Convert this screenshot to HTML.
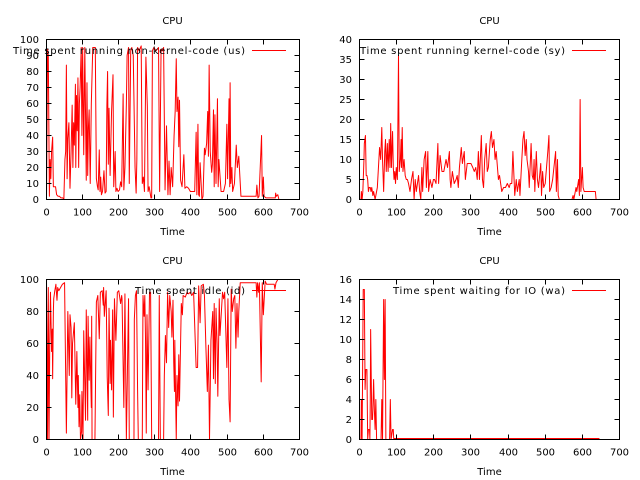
<!DOCTYPE html>
<html><head><meta charset="utf-8"><style>
html,body{margin:0;padding:0;background:#fff;}
svg{display:block;}
text{font-family:"DejaVu Sans","Liberation Sans",sans-serif;font-size:10px;fill:#000;}
.d{fill:none;stroke:#f00;stroke-width:1;stroke-linejoin:round;}
.a{fill:none;stroke:#000;stroke-width:1;}
</style></head><body>
<svg width="640" height="480" viewBox="0 0 640 480" xmlns="http://www.w3.org/2000/svg">
<rect width="640" height="480" fill="#fff"/>

<!-- Panel 1 data -->
<g transform="translate(46.5,199.5) scale(0.36143,-1.6)">
<polyline class="d" vector-effect="non-scaling-stroke" points="0,0 3,94 5,90 8,2 10,25 12,13 14,30 17,39 19,8 22,8 25,8 28,3 32,2 36,2 40,1 45,1 48,0 51,25 53,30 55,84 57,13 59,38 62,48 65,7 68,30 71,59 73,20 75,48 77,34 80,72 81,20 83,65 85,43 87,76 89,20 91,60 93,70 96,95 98,40 100,95 103,28 106,95 110,12 112,73 114,15 116,45 118,56 121,10 124,60 128,95 131,95 135,95 138,13 141,8 143,6 146,31 148,5 150,14 152,3 155,5 159,18 162,4 165,5 167,58 169,80 171,22 173,57 176,15 180,55 184,78 186,8 190,30 192,5 195,7 198,5 202,6 205,11 208,8 212,66 214,6 217,20 221,60 223,90 227,95 229,10 233,93 236,95 240,90 245,20 248,4 250,25 252,95 256,93 262,96 265,10 268,14 271,5 275,89 279,58 281,5 284,8 289,1 291,1 293,93 297,95 303,93 310,95 313,5 317,94 320,93 324,95 328,6 332,46 336,3 339,24 342,3 345,20 349,8 353,40 356,55 359,88 361,55 364,64 366,33 368,62 371,12 375,8 380,28 383,7 388,8 393,7 398,5 405,5 410,5 414,42 416,3 419,47 421,3 423,2 425,23 430,0 433,2 437,32 439,28 443,35 446,55 448,27 450,84 453,30 457,17 459,22 462,56 464,8 466,53 469,10 473,63 475,8 477,25 480,15 483,5 490,5 495,10 499,47 501,13 505,63 507,8 508,73 510,10 513,20 515,5 520,10 525,34 528,20 532,27 538,2 560,2 580,2 582,9 585,1 588,2 595,40 597,2 600,14 602,2 607,1 620,1 633,1 634,4 636,2 640,3 643,0"/>
</g>

<!-- Panel 2 data -->
<g transform="translate(359.5,199.5) scale(0.37143,-4)">
<polyline class="d" vector-effect="non-scaling-stroke" points="0,0 4,0 5,2 7,0 9,2 12,10 13,14 16,16 18,6 20,6 22,5 24,2 26,3 29,3 31,2 33,3 36,1 38,2 42,0 44,1 48,3 51,8 54,13 57,10 60,18 62,10 65,2 68,12 70,15 72,7 75,14 77,7 80,15 82,8 84,19 86,8 89,17 91,8 93,5 95,7 97,4 99,8 102,5 105,36 107,7 110,10 112,15 113,8 115,18 117,7 120,10 123,6 126,5 129,5 132,4 136,2 140,5 144,7 147,0 150,5 153,2 159,6 162,2 165,0 168,8 170,2 174,10 178,12 180,3 184,12 186,2 190,5 195,3 199,5 202,5 206,4 211,14 213,4 217,11 222,7 227,7 233,10 237,8 242,12 244,5 246,3 250,7 255,4 260,5 263,6 266,3 269,8 274,13 277,9 282,12 285,5 290,9 294,9 300,9 305,8 309,7 313,8 317,5 320,12 323,5 328,16 331,5 334,3 337,10 341,14 344,7 347,8 352,15 355,17 358,13 362,15 365,10 368,12 374,5 377,6 383,2 388,3 393,3 398,4 403,3 406,4 410,4 413,12 418,1 422,5 425,2 430,5 432,1 437,10 440,15 443,17 446,11 449,15 451,10 455,7 457,3 462,14 465,6 468,5 470,10 472,2 476,12 479,5 482,3 488,9 490,1 493,7 496,3 500,4 507,12 510,16 512,2 516,3 520,5 528,12 530,2 533,10 535,1 538,0 545,0 572,0 575,1 577,0 583,3 585,2 590,5 592,1 594,25 596,2 600,8 602,3 605,2 615,2 635,2 637,0 646,0"/>
</g>

<!-- Panel 3 data -->
<g transform="translate(46.5,439.5) scale(0.36143,-1.6)">
<polyline class="d" vector-effect="non-scaling-stroke" points="0,100 3,0 5,95 7,0 9,60 11,92 14,55 16,69 17,38 19,80 20,88 23,93 26,97 29,87 31,95 34,93 39,95 44,97 50,98 52,60 55,4 59,80 63,40 65,78 68,70 70,26 72,60 77,73 81,22 84,55 87,20 88,40 90,8 92,28 94,0 97,5 98,30 101,0 103,68 108,12 110,81 114,12 115,77 118,37 120,64 124,20 125,77 126,0 134,0 138,86 142,90 146,63 149,92 154,93 157,84 158,95 160,77 165,93 168,39 171,15 173,82 176,35 177,62 180,31 183,81 185,14 188,88 192,62 196,92 200,93 205,85 208,90 209,88 214,20 217,91 221,0 227,88 229,0 242,0 243,75 246,90 249,93 252,31 254,0 265,0 267,90 270,77 272,90 274,62 276,4 278,78 281,31 285,92 288,92 291,0 310,0 312,90 315,0 324,0 326,40 329,65 332,48 335,92 338,70 341,90 345,80 347,64 350,87 352,48 354,30 355,62 359,0 361,40 364,21 366,53 368,24 373,85 376,78 378,90 384,89 389,92 392,91 398,92 402,90 407,92 414,45 418,45 421,96 425,73 428,96 434,97 437,90 441,58 445,30 448,59 451,0 455,62 460,80 462,38 464,85 467,35 469,82 472,60 474,27 478,88 480,65 487,92 490,88 493,92 499,45 502,88 505,25 508,11 511,94 514,80 518,88 521,90 524,57 527,85 530,64 532,80 536,98 580,98 582,89 584,98 587,92 589,98 594,36 597,98 600,78 605,99 609,97 630,97 632,94 635,98 640,100 643,100"/>
</g>

<!-- Panel 4 data -->
<g transform="translate(359.5,439.5) scale(0.37143,-10)">
<polyline class="d" vector-effect="non-scaling-stroke" points="0,0 4,0 5,4 7,0 10,15 13,15 15,5 17,7 20,7 22,0 24,1 27,1 28,0 29,4 30,11 33,2 35,2 36,3 38,6 40,3 42,1 44,4 46,0 58,0 60,4 62,0 65,14 67,6 69,14 71,0 81,0 83,4 85,0 89,1 91,1 92,0.1 646,0.1"/>
</g>

<!-- Axes boxes -->
<rect class="a" x="46.5" y="39.5" width="253" height="160"/>
<rect class="a" x="359.5" y="39.5" width="260" height="160"/>
<rect class="a" x="46.5" y="279.5" width="253" height="160"/>
<rect class="a" x="359.5" y="279.5" width="260" height="160"/>

<!-- Ticks -->
<path class="a" d="
M46.5 183.5h5M46.5 167.5h5M46.5 151.5h5M46.5 135.5h5M46.5 119.5h5M46.5 103.5h5M46.5 87.5h5M46.5 71.5h5M46.5 55.5h5
M299.5 183.5h-5M299.5 167.5h-5M299.5 151.5h-5M299.5 135.5h-5M299.5 119.5h-5M299.5 103.5h-5M299.5 87.5h-5M299.5 71.5h-5M299.5 55.5h-5
M82.5 199.5v-5M118.5 199.5v-5M154.5 199.5v-5M190.5 199.5v-5M227.5 199.5v-5M263.5 199.5v-5
M82.5 39.5v5M118.5 39.5v5M154.5 39.5v5M190.5 39.5v5M227.5 39.5v5M263.5 39.5v5
M359.5 179.5h5M359.5 159.5h5M359.5 139.5h5M359.5 119.5h5M359.5 99.5h5M359.5 79.5h5M359.5 59.5h5
M619.5 179.5h-5M619.5 159.5h-5M619.5 139.5h-5M619.5 119.5h-5M619.5 99.5h-5M619.5 79.5h-5M619.5 59.5h-5
M396.5 199.5v-5M433.5 199.5v-5M470.5 199.5v-5M508.5 199.5v-5M545.5 199.5v-5M582.5 199.5v-5
M396.5 39.5v5M433.5 39.5v5M470.5 39.5v5M508.5 39.5v5M545.5 39.5v5M582.5 39.5v5
M46.5 407.5h5M46.5 375.5h5M46.5 343.5h5M46.5 311.5h5
M299.5 407.5h-5M299.5 375.5h-5M299.5 343.5h-5M299.5 311.5h-5
M82.5 439.5v-5M118.5 439.5v-5M154.5 439.5v-5M190.5 439.5v-5M227.5 439.5v-5M263.5 439.5v-5
M82.5 279.5v5M118.5 279.5v5M154.5 279.5v5M190.5 279.5v5M227.5 279.5v5M263.5 279.5v5
M359.5 419.5h5M359.5 399.5h5M359.5 379.5h5M359.5 359.5h5M359.5 339.5h5M359.5 319.5h5M359.5 299.5h5
M619.5 419.5h-5M619.5 399.5h-5M619.5 379.5h-5M619.5 359.5h-5M619.5 339.5h-5M619.5 319.5h-5M619.5 299.5h-5
M396.5 439.5v-5M433.5 439.5v-5M470.5 439.5v-5M508.5 439.5v-5M545.5 439.5v-5M582.5 439.5v-5
M396.5 279.5v5M433.5 279.5v5M470.5 279.5v5M508.5 279.5v5M545.5 279.5v5M582.5 279.5v5
"/>

<!-- Legend sample lines -->
<path class="d" d="M252 50.5H286M572 50.5H606M252 290.5H286M572 290.5H606"/>

<!-- Titles -->
<text x="172.5" y="24" text-anchor="middle">CPU</text>
<text x="489.5" y="24" text-anchor="middle">CPU</text>
<text x="172.5" y="264" text-anchor="middle">CPU</text>
<text x="489.5" y="264" text-anchor="middle">CPU</text>

<!-- X labels -->
<text x="172.5" y="235" text-anchor="middle">Time</text>
<text x="489.5" y="235" text-anchor="middle">Time</text>
<text x="172.5" y="475" text-anchor="middle">Time</text>
<text x="489.5" y="475" text-anchor="middle">Time</text>

<!-- Legends -->
<text x="13" y="54" textLength="232" lengthAdjust="spacing">Time spent running non-kernel-code (us)</text>
<text x="360" y="54" textLength="205" lengthAdjust="spacing">Time spent running kernel-code (sy)</text>
<text x="135" y="294" textLength="110" lengthAdjust="spacing">Time spent idle (id)</text>
<text x="393" y="294" textLength="172" lengthAdjust="spacing">Time spent waiting for IO (wa)</text>

<!-- Panel 1 y tick labels -->
<g text-anchor="end">
<text x="39" y="203">0</text><text x="39" y="187">10</text><text x="39" y="171">20</text><text x="39" y="155">30</text><text x="39" y="139">40</text><text x="39" y="123">50</text><text x="39" y="107">60</text><text x="39" y="91">70</text><text x="39" y="75">80</text><text x="39" y="59">90</text><text x="39" y="43">100</text>
</g>
<!-- Panel 2 y tick labels -->
<g text-anchor="end">
<text x="352" y="203">0</text><text x="352" y="183">5</text><text x="352" y="163">10</text><text x="352" y="143">15</text><text x="352" y="123">20</text><text x="352" y="103">25</text><text x="352" y="83">30</text><text x="352" y="63">35</text><text x="352" y="43">40</text>
</g>
<!-- Panel 3 y tick labels -->
<g text-anchor="end">
<text x="39" y="443">0</text><text x="39" y="411">20</text><text x="39" y="379">40</text><text x="39" y="347">60</text><text x="39" y="315">80</text><text x="39" y="283">100</text>
</g>
<!-- Panel 4 y tick labels -->
<g text-anchor="end">
<text x="352" y="443">0</text><text x="352" y="423">2</text><text x="352" y="403">4</text><text x="352" y="383">6</text><text x="352" y="363">8</text><text x="352" y="343">10</text><text x="352" y="323">12</text><text x="352" y="303">14</text><text x="352" y="283">16</text>
</g>

<!-- X tick labels -->
<g text-anchor="middle">
<text x="46.5" y="215.5">0</text><text x="82.5" y="215.5">100</text><text x="118.5" y="215.5">200</text><text x="154.5" y="215.5">300</text><text x="190.5" y="215.5">400</text><text x="227.5" y="215.5">500</text><text x="263.5" y="215.5">600</text><text x="299.5" y="215.5">700</text>
<text x="359.5" y="215.5">0</text><text x="396.5" y="215.5">100</text><text x="433.5" y="215.5">200</text><text x="470.5" y="215.5">300</text><text x="508.5" y="215.5">400</text><text x="545.5" y="215.5">500</text><text x="582.5" y="215.5">600</text><text x="619.5" y="215.5">700</text>
<text x="46.5" y="455.5">0</text><text x="82.5" y="455.5">100</text><text x="118.5" y="455.5">200</text><text x="154.5" y="455.5">300</text><text x="190.5" y="455.5">400</text><text x="227.5" y="455.5">500</text><text x="263.5" y="455.5">600</text><text x="299.5" y="455.5">700</text>
<text x="359.5" y="455.5">0</text><text x="396.5" y="455.5">100</text><text x="433.5" y="455.5">200</text><text x="470.5" y="455.5">300</text><text x="508.5" y="455.5">400</text><text x="545.5" y="455.5">500</text><text x="582.5" y="455.5">600</text><text x="619.5" y="455.5">700</text>
</g>
</svg>
</body></html>
